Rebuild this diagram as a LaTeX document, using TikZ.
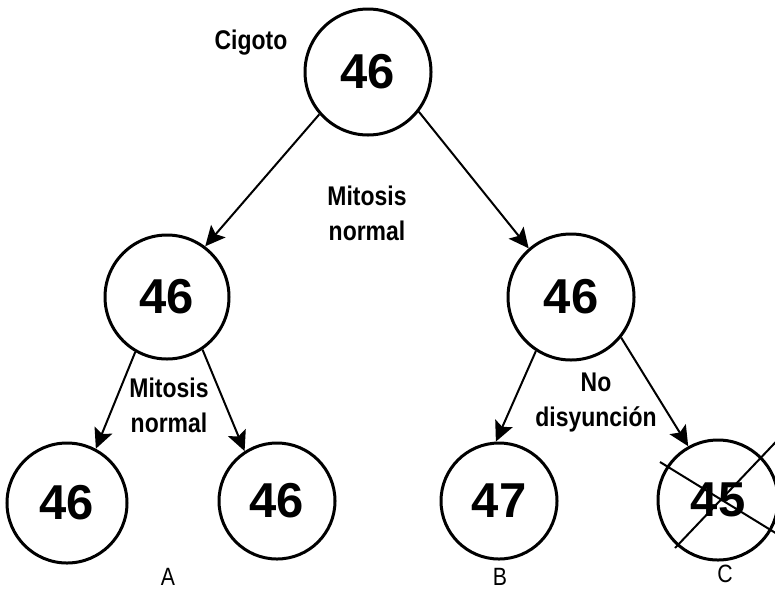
\documentclass[tikz,border=0pt]{standalone}
\usepackage{fontspec}
\setmainfont{Liberation Sans}
\newfontfamily\narrowfont[FakeStretch=0.85]{Liberation Sans}
\usetikzlibrary{arrows.meta}
\tikzset{
  cell/.style={circle, draw, line width=3pt, inner sep=0pt, minimum size=#1,
               font=\bfseries\fontsize{49}{50}\selectfont},
  link/.style={line width=2pt, -{Stealth[length=20pt,width=19pt,inset=4pt]}},
  tag/.style={font=\narrowfont\bfseries\fontsize{27}{35}\selectfont, align=center, inner sep=0pt},
  letter/.style={font=\narrowfont\fontsize{25}{25}\selectfont, inner sep=0pt},
  strike/.style={line width=2pt}
}
\begin{document}
\begin{tikzpicture}[x=1pt, y=-1pt]
\useasboundingbox (0,0) rectangle (775,598);

% cells
\node[cell=126pt] (top) at (368,72)  {46};
\node[cell=124pt] (ml)  at (167,297) {46};
\node[cell=126pt] (mr)  at (571,297) {46};
\node[cell=120pt] (b1)  at (67,503)  {46};
\node[cell=116pt] (b2)  at (277,501) {46};
\node[cell=116pt] (b3)  at (499,501) {47};
\node[cell=120pt] (b4)  at (718,500) {45};

% divisions
\draw[link] (top.221.9) -- (ml.53.8);
\draw[link] (top.322.4) -- (mr.131);
\draw[link] (ml.240)    -- (b1.62);
\draw[link] (ml.304.6)  -- (b2.123.7);
\draw[link] (mr.237)    -- (b3.93);
\draw[link] (mr.321.5)  -- (b4.119.4);

% cross over the 45 cell
\coordinate (xa) at (660,462);
\coordinate (xb) at (800,548);
\coordinate (xc) at (675,548);
\coordinate (xd) at (790,427);
\draw[strike] (xa) -- (xb);
\draw[strike] (xc) -- (xd);

% labels
\node[tag] (cig) at (251,43) {Cigoto};
\node[tag] (mit1) at (367,213) {Mitosis\\normal};
\node[tag] (mit2) at (169,405) {Mitosis\\normal};
\node[tag] (nod) at (596,403) {No\\disyunción};

\node[letter] (la) at (168,577) {A};
\node[letter] (lb) at (500,577) {B};
\node[letter] (lc) at (725,574) {C};
\end{tikzpicture}
\end{document}
